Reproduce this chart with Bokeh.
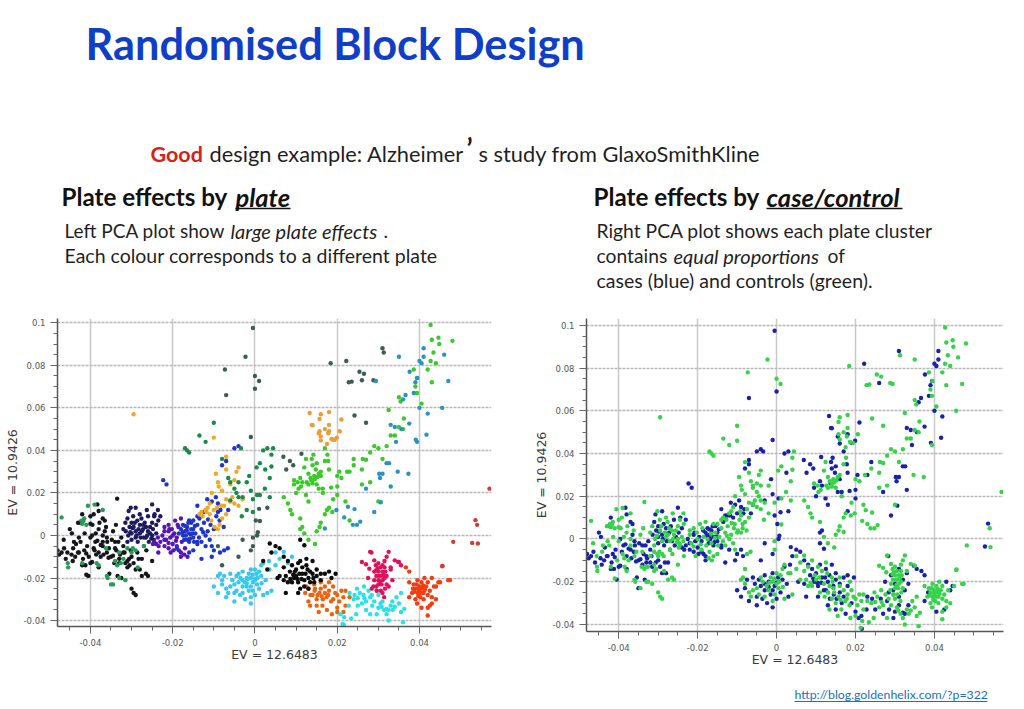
from bokeh.plotting import figure
from bokeh.layouts import column, row
from bokeh.models import Label, FixedTicker, Range1d
from bokeh.embed import file_html
from bokeh.resources import INLINE

# Scores, in thousandths of the axis unit, (x, y).
# Each plate is split in cases (blue on the right plot) and controls (green).
west_black_case = [(-48,-7),(-47.6,-9),(-46.4,-6),(-46,-11),(-44.3,-12),(-45,3),(-44.5,1),(-43.5,-4),(-43,-8),(-42,10),(-42.5,6),(-41.5,-7),(-41,-8.5),(-42,-14),(-41.8,-11),(-40,-13),(-39.6,-12.5),(-38.3,14.6),(-38,11.5),(-38.8,-3),(-38.3,-2.5),(-37.5,-4.5),(-37,-5),(-37,8),(-36.5,7),(-36.5,2),(-36,-1),(-35.4,-18),(-35,-10),(-35.6,-10.5),(-34.5,-9.5),(-34.8,-2),(-34,-3),(-33,-11),(-32.5,-1),(-32,-5),(-31.5,-13),(-30,-10),(-29,-16),(-28,-16),(-28.3,-11),(-27.5,-11),(-27,-5),(-40.5,-19),(-33.4,-19),(-47,-8),(-44.6,-9),(-43.7,-10),(-42.8,-8),(-40.8,-5),(-39.6,0),(-39.2,-6),(-38,-8),(-36.8,-9),(-35.9,-3),(-33.7,-7),(-33.2,-3),(-32.8,-9),(-31.7,-8),(-30.6,-11),(-29.5,-13),(-41.2,-14)]
west_black_ctrl = [(-44,-3),(-43,6),(-41,-18.5),(-40,9),(-40,-1),(-39.5,5),(-38.7,1),(-38.6,-9),(-38,-15),(-37.5,-10),(-37,-3),(-34.5,2),(-34,-6),(-33.8,5),(-33,-13),(-32.5,-20),(-30,-25),(-29.5,-27),(-29,-28),(-31,-12),(-30.5,-14),(-33.5,17.3),(-36,-8),(-42.8,-1),(-38,3),(-27.5,-19),(-26,-19),(-26.5,-18),(-25,-12),(-46.5,-2),(-45.6,-8),(-44.2,-6),(-42.4,-3),(-41.4,1),(-40.4,-10),(-39,-7),(-37.8,6),(-37,0),(-36.2,4),(-35.5,-6),(-34.2,-13),(-32,-8),(-31,-15),(-30.2,-7),(-28.6,-8),(-26.4,-7),(-40,5.5),(-39.2,10)]
west_green_case = [(-38,-14),(-35,-23),(-36.2,-6),(-34,-12),(-33,-8),(-32,-11)]
west_green_ctrl = [(-49,4),(-47,8.5),(-45.5,-13),(-45.4,-15),(-42.2,7),(-41.5,8),(-41,5),(-40.6,14),(-39,14.5),(-35.8,-20),(-34.5,-23),(-36,-19),(-33,-20),(-31.5,-21),(-29.7,-6),(-28.5,-15),(-27,-5),(-29,-7),(-31,-6),(-42,-13),(-37,12),(-38.5,-13),(-42,5.5),(-41.7,6.8),(-30,-8),(-33.5,-14),(-32.6,-13)]
navy_case = [(-31,8),(-30.7,11.5),(-30.5,4),(-30,6),(-30,-2),(-29,13),(-29,2),(-28.5,-3),(-28,5),(-27.2,3),(-26,9),(-25,14.6),(-24.4,10),(-24,5),(-23,9),(-30,1),(-28.6,7),(-26.5,-1),(-25.5,1),(-31.4,2),(-29.8,3.5),(-28.8,0),(-27.8,-1),(-26.8,6),(-25.8,-3),(-24.8,3)]
navy_ctrl = [(-32,3),(-31.5,6),(-30.8,0),(-29.5,4),(-29,-1),(-28,1),(-27.5,2),(-27,-1),(-26.5,4),(-26,2),(-25.5,4),(-25,0),(-24.6,-2),(-24,1),(-23.5,7),(-27.6,8),(-25,6),(-28,10),(-29.6,9),(-26.3,12),(-24.5,9),(-30.2,13),(-31,-3),(-30.3,1.5),(-28.3,3),(-27.2,5),(-26.2,0),(-25.2,-1.5),(-29.2,6),(-23.6,12)]
purple_case = [(-24,-4),(-23,-3),(-22,-5),(-22.5,0),(-21,2),(-20.6,-1),(-20,-4),(-19,-1),(-18.5,-7),(-18,-8),(-21,-6),(-19.6,1),(-18,-10),(-23.4,-5),(-22,-2),(-20.8,3),(-19.8,-7),(-18.6,4)]
purple_ctrl = [(-24.5,-3),(-23.6,-1),(-22,2),(-21.6,-2),(-21,5),(-20.2,3),(-20,0),(-19,-5),(-19.4,7),(-17.8,-3),(-17,-6),(-18.8,5),(-17.2,-9),(-16.4,-10),(-20.5,-8),(-18,8),(-22,4),(-23.5,-8),(-24.8,-4),(-21,-3.5),(-19.2,-2.5)]
blue_case = [(-18,3),(-17.5,5),(-17,2),(-16.5,4),(-16,1),(-16,-3),(-15.5,6),(-15,-1),(-15,3),(-14,-3),(-13.5,8),(-13,-11),(-12,-5),(-10,-7),(-10.5,-10),(-8.5,-8),(-14,14),(-12.5,11),(-11.6,17),(-10.5,16),(-9.5,18),(-9,15),(-8.4,12),(-6.5,12),(-19,-6),(-21.5,24),(-22.3,26),(-7,35),(-8,33),(-4,42),(-5,41),(-14,-4),(-17.6,1.5),(-17,4.5),(-16.8,0),(-16.2,6),(-15.8,-1.5),(-15.2,1),(-14.6,4.5),(-17.2,-2)]
blue_ctrl = [(-17.5,0),(-16.5,-2),(-16,7),(-15.5,3),(-15,7),(-14.5,1),(-14,5),(-14,9),(-13,3),(-13,-3),(-12.4,6),(-12,0),(-11.5,2),(-11,-2),(-10.8,5),(-10,3),(-9.4,9),(-8.6,7),(-7.6,4),(-7.5,-7),(-6.6,-6),(-10.5,-5),(-15,-7),(-16,-8),(-16.6,2.5),(-15.6,0.5),(-14.8,-3),(-13.6,-1),(-12.6,1.5),(-11.4,7.5),(-9,11),(-18.5,1)]
gold_case = [(-11.8,11),(-11,10),(-13,11),(-7,37),(-10,12),(-8.2,14),(-6,16)]
gold_ctrl = [(-13.5,10),(-12.7,9),(-12,12),(-11,15),(-11.5,13),(-9.8,4),(-9,3),(-8,21),(-9,25),(-7.5,14),(-7,17),(-7,31),(-6,16),(-5.5,18),(-5,26),(-4.5,30),(-4,14),(-3,17),(-9.5,29),(-8.8,23),(-6,24),(-10.5,20),(-29.5,57),(-10,46),(-4,32),(-9.2,13),(-8,8),(-7,10),(-10.6,7),(-5,15),(-8.6,5)]
dgreen_case = [(-1.4,28),(-1,21),(-3,18),(-0.5,11),(0.5,19),(2,40),(3,41),(2.5,31),(-3.4,41)]
dgreen_ctrl = [(-17,41),(-16.5,40),(-16,39),(-12,44),(-13.5,47),(-10,53),(-8,36),(-5,22),(-6.5,27),(-6,25),(-4,25),(-4.5,20),(-2,25),(-2,12),(-0.5,17),(1.2,34),(0.4,32),(4.4,41),(4,38),(1.2,19),(3.6,18),(2.4,22),(3.6,27),(4,32.4),(-6,16.5),(-3.2,9),(-4,18)]
scatter_case = [(-0.5,97.5),(0,69),(-7,66),(22.2,82),(-1,46.3),(26,73),(31,88),(-9,-5),(-1,-7),(-3,-2),(1,12.5),(3,13),(0.2,7),(0.7,1.5),(0.5,0),(-4,-10),(6.9,37),(8.5,35),(9.3,33),(7.6,31),(11.3,38.4)]
scatter_ctrl = [(-7.3,78),(-2.3,84),(0,75),(1,72.6),(18.4,81),(25.4,77),(26.5,76),(22.8,72),(23.5,72.3),(24.2,56.4),(-0.5,-1),(-0.5,-5),(1.2,6.8),(28.8,73),(31.3,86),(27,53),(-8,-14)]
cyan_case = [(-10,-24),(-9,-27),(-8,-23),(-7,-29),(-7.5,-19),(-6,-18),(-5.5,-21),(-5,-27),(-5,-31),(-4,-22),(-3.6,-28),(-3,-17),(-3,-24),(-2.4,-30),(-2,-20),(-1.5,-26),(-1,-16),(-1,-32),(-0.5,-22),(0,-28),(0.4,-18),(1,-25),(1.5,-19),(2,-13),(2.6,-21),(3,-27),(-4.5,-19),(3.4,-12),(-3,-21),(-2,-22.5),(-1,-24),(0,-20.5)]
cyan_ctrl = [(-9,-19),(-8.5,-18),(-8,-21),(-7,-25),(-6.5,-27),(-6,-24),(-5,-23),(-4.5,-26),(-4,-18),(-3.5,-20),(-3,-27),(-2.5,-22),(-2,-24),(-1.5,-18),(-1,-20),(-1,-29),(-0.5,-26),(0,-21),(0,-16),(0.5,-23),(1,-17),(1.5,-14),(2,-28),(3.5,-16),(4,-26),(5,-8),(6,-11),(7,-7.7),(8,-13),(5,-14),(9,-10),(-1.8,-20.5),(-0.6,-18.5),(0.6,-20),(1.6,-22.5)]
bright_case = [(9.5,24),(10,20),(11,27),(11.5,25),(12.4,19),(13,16),(13.7,26),(14,33),(14.2,38),(13.8,36),(15,34),(15.5,22),(16.5,22),(17,41),(17.8,35),(18,31),(18.5,22.5),(20,19),(20.5,30),(20,23),(11,3),(11.5,4),(18,13),(24,36),(23,30),(16,28),(14.8,31)]
bright_ctrl = [(7,18),(8,15),(8.6,12),(9,10),(9.5,26),(10.6,22),(11,8),(12,32),(12.4,36),(13,29),(13,24),(14,26),(14.4,28),(15,24),(15.5,29),(16,30),(16.5,20),(17,35),(17.6,38),(17,10),(17.5,12),(18.8,11),(16,6),(15.7,4),(15,2),(12,1),(13,-2),(14.6,-4),(19,17),(20,28),(21,27),(22.4,30),(24,33),(26,31),(26.2,36),(26,24),(27,35.6),(28,39),(29,42),(30,41),(31,36),(32,42),(33,47),(34,47),(35,51),(36,50),(32.5,59),(36.2,55),(35,65),(35.4,63),(39,70),(39.5,74),(38.6,78),(39.4,67),(40.5,62),(42,78),(43,72),(44,81),(42.7,82),(43.4,86),(44.8,90),(44.6,93),(43,92),(42.7,99),(48,91.5),(22,16),(23,7),(28,25),(30,16),(13.5,27),(14,24.5),(14.6,26.5),(15.2,27.5),(12.6,25),(10.4,25),(11.2,23)]
teal_case = [(40,82),(41,88),(37.6,77),(42,57.3),(37.5,52.6),(41.7,47.4),(39.1,45),(34.3,44),(32,34),(32.6,34),(31,29),(30.2,29),(30.4,27),(33,23),(27,22),(30.6,15.6),(29,11),(40.5,81),(41,84),(36,64),(36.6,66),(38.6,67),(40,60),(39,72),(34,51),(35.6,50),(33,52),(39.4,74)]
teal_ctrl = [(35,84),(46,85),(47,72.6),(45.5,60),(34.7,30),(37.3,29),(24.2,12.4),(22.6,13.5),(21.7,8.5),(23.8,5),(24.8,5),(25.6,6.5),(19.8,12),(17,3.3),(29.4,72.6),(39.4,44)]
black_s_case = [(4,-8),(5,-5),(6,-6),(7,-10),(8,-12),(8.5,-17),(9,-14),(9.5,-20),(10,-16),(10.5,-22),(11,-12),(11,-2),(11.5,-18),(12,-4.6),(12,-24),(12.5,-14),(13,-20),(13.4,-17),(14,-12),(14.4,-22),(15,-19),(15,-16),(16,-21),(17,-18),(18,-17),(19.6,-18),(5.5,-20),(7,-21),(7.5,-27),(10.5,-27),(3.6,-3.8),(9.3,-18.5),(10.3,-20.5),(11.3,-20.5),(12.3,-18)]
black_s_ctrl = [(6,-19),(7,-15),(7.5,-19),(8,-22),(9,-22),(10,-19),(10.5,-13),(11,-25),(11.5,-15),(12,-21),(12.5,-11),(13.4,-22),(14,-18),(16,-18),(18.6,-20),(2,-12),(3,-16),(13,-25),(8.6,-20.5),(9.7,-17),(10.8,-18),(12.8,-16),(14.2,-20)]
orange_case = [(12.5,-24),(13,-31),(13.5,-28),(14.5,-26),(15,-33),(16,-25),(16.5,-30),(17,-27),(18,-22),(19,-30),(20,-34),(21.5,-36),(17.5,-35),(15.2,-28)]
orange_ctrl = [(12.2,-27),(13,-25),(14,-28),(14.4,-23),(15,-30),(15.7,-27),(16,-22),(16.4,-33),(17,-24),(17.4,-29),(18,-26),(18.5,-31),(19,-24),(19.5,-27),(20,-28),(20.5,-31),(21,-26),(21.5,-29),(22,-33),(20,-36),(18.7,-37),(15.5,-36),(13.4,-33),(22,-26),(23,-29),(14.6,-25),(16.2,-28.5),(17.8,-28)]
aqua_case = [(20.8,-37),(21.6,-42),(23,-27),(25,-33),(26.4,-28),(27,-35),(28,-29),(28.5,-33),(30,-34),(31,-31),(32,-34.5),(32.5,-35),(33.4,-31),(22.8,-33),(29.6,-37),(24.2,-28)]
aqua_ctrl = [(21.7,-38.4),(23.4,-39),(24.6,-37),(24,-30),(24.8,-25),(25.5,-27),(26,-32),(26.5,-24),(27,-31),(27.6,-26),(28.4,-28),(29,-31),(29.6,-26),(30,-28),(30.5,-32),(31.4,-35),(32,-37),(32.5,-40),(33,-33),(33.5,-35),(34.4,-29),(35,-32),(35.5,-36),(36,-40.8),(36.3,-34.5),(35.5,-27),(21.3,-41.6),(28,-37),(25,-29.5),(26.6,-29.5),(30.8,-33.5),(34,-33.5)]
crim_case = [(28.3,-8),(34.8,-12.5),(29,-17),(30,-21),(31,-14),(32,-19),(32.5,-24),(33,-16),(33.4,-21),(29.5,-24),(31,-27),(35.5,-14),(27.5,-20),(28.4,-25)]
crim_ctrl = [(28,-7.7),(32.5,-7.7),(26,-12.5),(27,-13.5),(29,-11.7),(34,-11.7),(35,-12.5),(31.4,-29),(27.8,-15.6),(29.4,-14),(29.5,-19),(30,-17),(30,-13),(30.5,-15),(30.6,-19),(30.8,-23),(31,-17),(31,-21),(31.5,-12),(31.5,-15),(31.6,-25),(32,-23),(29,-21),(28.8,-24),(29.6,-26),(30.6,-26),(32,-10),(33,-15),(29.8,-15.5),(30.2,-19),(30.4,-21.5),(31.2,-18.5),(31.7,-17),(30,-23),(29.4,-16.5),(31.5,-20)]
red_case = [(36.7,-15),(37.5,-17),(43,-20),(44,-24),(44.6,-22),(42.5,-33),(38.4,-25),(37.5,-29),(40.5,-34)]
red_ctrl = [(37.5,-22),(38.2,-27),(38.6,-23),(39,-30),(39,-25),(39.5,-21),(39.6,-27),(40,-24),(40,-26),(40.2,-29),(40.5,-22),(40.7,-25),(41,-27),(41,-30),(41.2,-20),(41.6,-24),(42,-28),(42,-37.6),(42,-22),(42.5,-26),(43,-32),(43,-29),(43.5,-24),(44,-30),(45,-22),(45.5,-14.5),(47,-21),(47.4,-21),(39.4,-32),(42,-34),(39.8,-25),(40.4,-27),(40.9,-23.5),(39.3,-23),(41.3,-25.5),(38.8,-26.5),(40.2,-24.5),(39.7,-28.5)]
north_case = [(13.3,57.6),(13.8,52),(21,54.5),(19.9,46),(15.5,48),(16,44.7),(19,45),(14,51.8),(18,49)]
north_ctrl = [(16,57),(18,58),(18,52),(20.6,49),(15.7,49),(16,46.6),(17.8,48),(19.4,45),(15.7,54.8),(18.6,45.4),(17.5,43),(17,50)]
far_case = [(53.6,7.2),(52.8,-3.5)]
far_ctrl = [(57,22),(54,5),(48.2,-3),(54.2,-3.8),(45.6,-14.3)]

plate_points = [
    (west_black_case, west_black_ctrl, "#16161c"), (west_green_case, west_green_ctrl, "#2a9a58"),
    (navy_case, navy_ctrl, "#1d1a5e"), (purple_case, purple_ctrl, "#5716b4"),
    (blue_case, blue_ctrl, "#1f35c4"), (gold_case, gold_ctrl, "#eca92a"),
    (dgreen_case, dgreen_ctrl, "#1a8a4a"), (scatter_case, scatter_ctrl, "#3c5e50"),
    (cyan_case, cyan_ctrl, "#35c9ec"), (bright_case, bright_ctrl, "#3bc92a"),
    (teal_case, teal_ctrl, "#2b93bd"), (orange_case, orange_ctrl, "#ea6410"),
    (black_s_case, black_s_ctrl, "#0c0c0c"), (aqua_case, aqua_ctrl, "#28e2ea"),
    (crim_case, crim_ctrl, "#e2105c"), (red_case, red_ctrl, "#f23c12"),
    (north_case, north_ctrl, "#ee9a35"), (far_case, far_ctrl, "#c8403a"),
]

x_ticks = [-0.04, -0.02, 0, 0.02, 0.04]
x_labels = ["-0.04", "-0.02", "0", "0.02", "0.04"]
y_ticks = [-0.04, -0.02, 0, 0.02, 0.04, 0.06, 0.08, 0.1]
y_labels = ["-0.04", "-0.02", "0", "0.02", "0.04", "0.06", "0.08", "0.1"]
x_minor = [-0.045, -0.035, -0.03, -0.025, -0.015, -0.01, -0.005, 0.005, 0.01, 0.015, 0.025, 0.03, 0.035, 0.045, 0.05, 0.055]
y_minor = [-0.035, -0.03, -0.025, -0.015, -0.01, -0.005, 0.005, 0.01, 0.015, 0.025, 0.03, 0.035, 0.045, 0.05, 0.055, 0.065, 0.07, 0.075, 0.085, 0.09, 0.095]
x_title = "EV = 12.6483"
y_title = "EV = 10.9426"

BLUE_TXT = "#0f3fc6"
INK = "#1f1f1f"
BODY = "Lato"


def xs(pts):
    return [a / 1000 for a, _ in pts]


def ys(pts):
    return [b / 1000 for _, b in pts]


def pca(width, height, xr, yr, borders):
    p = figure(width=width, height=height, x_range=Range1d(*xr), y_range=Range1d(*yr),
               output_backend="svg", toolbar_location=None,
               min_border_left=borders[0], min_border_right=borders[1],
               min_border_top=borders[2], min_border_bottom=borders[3],
               outline_line_color=None, border_fill_color="white")
    for axis, ticks, minor, labels in ((p.xaxis[0], x_ticks, x_minor, x_labels), (p.yaxis[0], y_ticks, y_minor, y_labels)):
        axis.ticker = FixedTicker(ticks=ticks, minor_ticks=minor)
        axis.major_label_overrides = {t: l for t, l in zip(ticks, labels)}
        axis.axis_line_color = "#555555"
        axis.axis_line_width = 1.5
        axis.major_tick_line_color = "#666666"
        axis.minor_tick_line_color = "#666666"
        axis.major_tick_in = 0
        axis.minor_tick_in = 0
        axis.major_tick_out = 7
        axis.minor_tick_out = 4
        axis.major_label_text_font = "DejaVu Sans"
        axis.major_label_text_font_size = "8.5px"
        axis.major_label_text_color = "#555555"
        axis.axis_label_text_font = "DejaVu Sans"
        axis.axis_label_text_font_style = "normal"
        axis.axis_label_text_font_size = "12.5px"
        axis.axis_label_text_color = "#3a3a3a"
    p.xaxis[0].axis_label = x_title
    p.yaxis[0].axis_label = y_title
    p.xaxis[0].axis_label_standoff = -2
    p.yaxis[0].axis_label_standoff = 1
    p.xaxis[0].major_label_standoff = 5
    p.yaxis[0].major_label_standoff = 5
    p.xgrid.ticker = FixedTicker(ticks=x_ticks)
    p.ygrid.ticker = FixedTicker(ticks=y_ticks)
    p.xgrid.grid_line_color = "#c8c8c8"
    p.xgrid.grid_line_width = 1.5
    p.ygrid.grid_line_color = "#b8b8b8"
    p.ygrid.grid_line_width = 1.5
    p.ygrid.grid_line_dash = "3 1"
    return p


left = pca(520, 370, (-0.048, 0.0575), (-0.0428, 0.102), (57, 29, 8, 54))
for case, ctrl, colour in plate_points:
    pts = case + ctrl
    left.scatter(xs(pts), ys(pts), size=4.4, color=colour, line_color=None)

right = pca(504, 375, (-0.04816, 0.0575), (-0.0433, 0.1032), (66, 21, 6, 54))
all_case = [pt for case, _, _ in plate_points for pt in case]
all_ctrl = [pt for _, ctrl, _ in plate_points for pt in ctrl]
right.scatter(xs(all_case), ys(all_case), size=4.4, color="#1a22a6", line_color=None)
right.scatter(xs(all_ctrl), ys(all_ctrl), size=4.4, color="#36d24a", line_color=None)

head = figure(width=1024, height=310, x_range=Range1d(0, 1024), y_range=Range1d(310, 0),
              output_backend="svg", toolbar_location=None, min_border=0, outline_line_color=None)
head.axis.visible = False
head.grid.visible = False


def put(fig, x, y, text, size, color=INK, style="normal", font=BODY):
    fig.add_layout(Label(x=x, y=y, text=text, text_font=font, text_font_size=f"{size}px", text_color=color,
                         text_font_style=style, text_baseline="middle", text_align="left"))


put(head, 85, 42, "Randomised Block Design", 43.3, BLUE_TXT, "bold")
put(head, 150, 153, "Good", 21.5, "#d8201c", "bold")
put(head, 209, 153, "design example: Alzheimer", 21.8)
put(head, 466, 147, "’", 28, INK, "bold")
put(head, 478, 153, "s study from GlaxoSmithKline", 21.8)
put(head, 61, 196, "Plate effects by", 24.2, "#111111", "bold")
put(head, 235, 196, "plate", 25.5, "#111111", "bold italic")
put(head, 593, 196, "Plate effects by", 24.2, "#111111", "bold")
put(head, 766, 196, "case/control", 25.5, "#111111", "bold italic")
head.segment([235, 766], [208, 208], [290, 902], [208, 208], line_color="#111111", line_width=1.5)
put(head, 64, 230, "Left PCA plot show", 19)
put(head, 230, 230, "large plate effects", 20, INK, "italic")
put(head, 383, 230, ".", 19.3)
put(head, 64, 255, "Each colour corresponds to a different plate", 19.5)
put(head, 596, 230, "Right PCA plot shows each plate cluster", 19.3)
put(head, 596, 255, "contains", 19.3)
put(head, 673, 255, "equal proportions", 20, INK, "italic")
put(head, 827, 255, "of", 19.3)
put(head, 596, 280, "cases (blue) and controls (green).", 19.5)

foot = figure(width=1024, height=23, x_range=Range1d(0, 1024), y_range=Range1d(708, 685),
              output_backend="svg", toolbar_location=None, min_border=0, outline_line_color=None)
foot.axis.visible = False
foot.grid.visible = False
put(foot, 794, 694, "http://blog.goldenhelix.com/?p=322", 12.3, "#1a6fc0")
foot.segment([794], [701], [987], [701], line_color="#1a6fc0", line_width=1)

page = column(head, row(left, right, spacing=0), foot, spacing=0)
open("out.html", "w").write(file_html(page, INLINE))
